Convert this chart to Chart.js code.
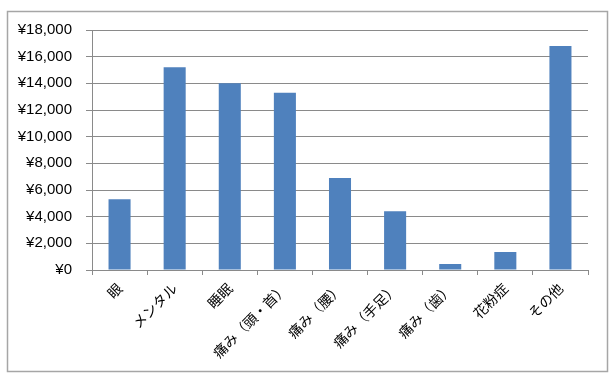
<!DOCTYPE html>
<html>
<head>
<meta charset="utf-8">
<script src="https://cdn.jsdelivr.net/npm/chart.js@4"></script>
<style>
  html, body { margin: 0; padding: 0; background: #fff; }
  #wrap { width: 615px; height: 383px; position: relative; }
</style>
</head>
<body>
<div id="wrap"><canvas id="chart" width="615" height="383"></canvas></div>
<script>
// categories and amounts (yen)
const categories = ['眼', 'メンタル', '睡眠', '痛み（頭・首）', '痛み（腰）', '痛み（手足）', '痛み（歯）', '花粉症', 'その他'];
const amounts = [5300, 15200, 14000, 13300, 6900, 4400, 450, 1350, 16800];
const yTicks = { min: 0, max: 18000, step: 2000 };

const GRID = '#8a8a8a';

// outer frame round the whole chart
const framePlugin = {
  id: 'frame',
  beforeDraw(chart) {
    const ctx = chart.ctx;
    ctx.save();
    ctx.fillStyle = '#fff';
    ctx.fillRect(0, 0, chart.width, chart.height);
    ctx.strokeStyle = '#a6a6a6';
    ctx.lineWidth = 1.5;
    ctx.strokeRect(7.5, 11.5, 600, 360);
    ctx.restore();
  }
};

new Chart(document.getElementById('chart'), {
  type: 'bar',
  data: {
    labels: categories,
    datasets: [{
      data: amounts,
      backgroundColor: '#4f81bd',
      borderWidth: 0,
      barPercentage: 0.4,
      categoryPercentage: 1.0,
    }],
  },
  options: {
    responsive: false,
    animation: false,
    layout: { padding: { top: 30, right: 27, left: 0, bottom: 0 } },
    plugins: { legend: { display: false }, tooltip: { enabled: false } },
    scales: {
      y: {
        min: yTicks.min,
        max: yTicks.max,
        afterFit: s => { s.width = 92; },
        ticks: {
          stepSize: yTicks.step,
          padding: 14,
          color: '#000',
          font: { family: 'Liberation Sans', size: 15 },
          callback: v => '¥' + v.toLocaleString('en-US'),
        },
        grid: { color: GRID, lineWidth: 1, tickLength: 6, tickColor: GRID },
        border: { color: GRID, width: 1 },
      },
      x: {
        afterFit: s => { s.height = 113; },
        ticks: {
          minRotation: 45,
          maxRotation: 45,
          autoSkip: false,
          padding: 5,
          color: '#000',
          font: { family: 'Noto Sans CJK JP', size: 14 },
        },
        grid: { offset: true, drawOnChartArea: false, tickLength: 5, color: GRID },
        border: { color: GRID, width: 1 },
      },
    },
  },
  plugins: [framePlugin],
});
</script>
</body>
</html>
